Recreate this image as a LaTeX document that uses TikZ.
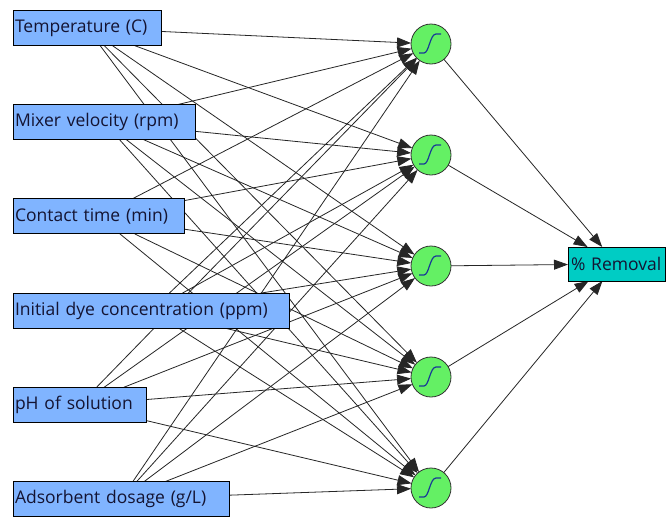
\documentclass[tikz,border=0pt]{standalone}
\usepackage{fontspec}
\setmainfont{Open Sans}
\usetikzlibrary{arrows.meta,calc}
\pgfdeclarelayer{bg}
\pgfsetlayers{bg,main}
\definecolor{inblue}{RGB}{128,180,255}
\definecolor{hgreen}{RGB}{100,240,100}
\definecolor{outteal}{RGB}{0,204,196}
\definecolor{sigblue}{RGB}{25,60,150}
\definecolor{txt}{RGB}{20,20,50}
\begin{document}
\begin{tikzpicture}[x=1pt,y=-1pt,
  inbox/.style={draw=black, line width=1pt, fill=inblue, anchor=west,
    minimum height=35pt, inner xsep=2pt, inner ysep=0pt, outer sep=0pt,
    font=\fontsize{17.5}{20}\selectfont, text=txt, align=left},
  neuron/.style={circle, draw=black!80, line width=0.8pt, fill=hgreen,
    minimum size=40pt, inner sep=0pt, outer sep=0pt},
  outbox/.style={draw=black, line width=1pt, fill=outteal, anchor=north west,
    minimum height=34pt, inner xsep=3pt, inner ysep=0pt, outer sep=0pt,
    font=\fontsize{17.5}{20}\selectfont, text=txt, align=left},
  sig/.style={draw=sigblue, line width=1.2pt},
  edge/.style={draw=black!85, line width=0.8pt, -{Triangle[length=14pt,width=10pt]}}
]
\clip (0,0) rectangle (666,517);
\begin{pgfonlayer}{bg}
\fill[white] (0,0) rectangle (666,517);
\end{pgfonlayer}

% input boxes
\node[inbox, text width=144pt] (T) at (13,28) {Temperature (C)};
\node[inbox, text width=178pt] (M) at (13,122.2) {Mixer velocity (rpm)};
\node[inbox, text width=167pt] (C) at (13,216.4) {Contact time (min)};
\node[inbox, text width=272pt] (I) at (13,310.6) {Initial dye concentration (ppm)};
\node[inbox, text width=129pt] (P) at (13,404.8) {pH of solution};
\node[inbox, text width=212pt] (A) at (13,499) {Adsorbent dosage (g/L)};

% hidden neurons
\foreach \j/\y in {1/44,2/155,3/266,4/377,5/488}{
  \node[neuron] (h\j) at (431,\y) {};
  \draw[sig] ($(h\j.center)+(-12,9)$) -- ($(h\j.center)+(-7,9)$) .. controls ($(h\j.center)+(-2,9)$) and ($(h\j.center)+(-1,-10)$) .. ($(h\j.center)+(5,-10)$) -- ($(h\j.center)+(10,-10)$);
}

% output
\node[outbox, text width=91pt, minimum width=97pt] (out) at (568,247) {\% Removal};

% connectors
\begin{pgfonlayer}{bg}
\foreach \i in {T,M,C,I,P,A}{
  \foreach \j in {1,...,5}{
    \draw[edge] (\i) -- (h\j);
  }
}
\foreach \j in {1,...,5}{
  \draw[edge] (h\j) -- (out);
}
\end{pgfonlayer}
\end{tikzpicture}
\end{document}
